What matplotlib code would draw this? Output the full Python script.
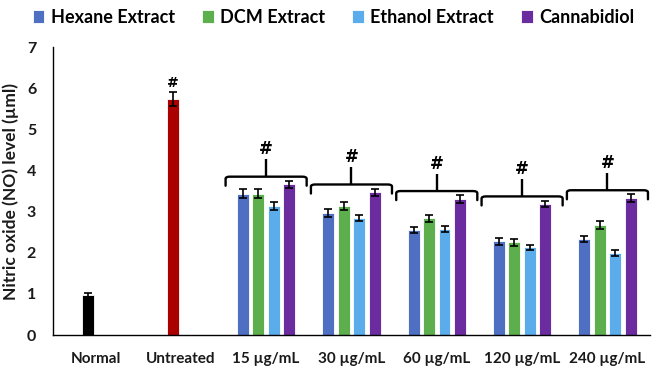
import matplotlib
matplotlib.use("Agg")
import matplotlib.pyplot as plt
import numpy as np
from matplotlib.path import Path
from matplotlib.patches import PathPatch

plt.rcParams['font.family'] = ['Lato', 'DejaVu Sans']

categories = ["Normal", "Untreated", "15 µg/mL", "30 µg/mL", "60 µg/mL", "120 µg/mL", "240 µg/mL"]
series = ["Hexane Extract", "DCM Extract", "Ethanol Extract", "Cannabidiol"]
colors = ["#4F6FC3", "#5DAF4E", "#5AACEA", "#6A2C9E"]

control_values = [0.98, 5.74]
control_errors = [0.05, 0.17]
control_colors = ["#000000", "#AA0000"]

hexane = [3.44, 2.96, 2.55, 2.28, 2.33]
dcm = [3.43, 3.14, 2.84, 2.25, 2.67]
ethanol = [3.14, 2.85, 2.58, 2.13, 2.00]
cbd = [3.66, 3.47, 3.31, 3.19, 3.33]
hexane_err = [0.11, 0.10, 0.08, 0.08, 0.08]
dcm_err = [0.11, 0.09, 0.09, 0.08, 0.09]
ethanol_err = [0.09, 0.08, 0.08, 0.06, 0.07]
cbd_err = [0.09, 0.09, 0.09, 0.08, 0.09]

fig = plt.figure(figsize=(6.6, 3.71), dpi=100)
ax = fig.add_axes([0.080, 0.097, 0.905, 0.776])

x = np.arange(len(categories))
slot = 0.181
bw = 0.14
offsets = (np.arange(4) - 1.5) * slot

err_kw = dict(elinewidth=1.2, capsize=3, capthick=1.2, ecolor="black")

# controls sit in the second slot
for i, (v, e, c) in enumerate(zip(control_values, control_errors, control_colors)):
    ax.bar(x[i] + offsets[1], v, bw, color=c, edgecolor="white", linewidth=0.6,
           yerr=e, error_kw=err_kw, zorder=2)

xc = x[2:]
data = [hexane, dcm, ethanol, cbd]
errs = [hexane_err, dcm_err, ethanol_err, cbd_err]
for k in range(4):
    ax.bar(xc + offsets[k], data[k], bw, color=colors[k], edgecolor="white",
           linewidth=0.6, yerr=errs[k], error_kw=err_kw, label=series[k], zorder=2)

# '#' over untreated
ax.text(x[1] + offsets[1], control_values[1] + control_errors[1] + 0.05, "#",
        ha="center", va="bottom", fontsize=10, fontweight="bold", family="DejaVu Sans")

# braces
tops = np.max(np.array(data) + np.array(errs), axis=0)
for j, xi in enumerate(xc):
    yh = tops[j] + 0.1
    left = xi - 0.475
    right = xi + 0.475
    drop = 0.22
    r = 0.05
    verts = [(left, yh - drop), (left, yh - 0.05), (left, yh), (left + r, yh),
             (right - r, yh), (right, yh), (right, yh - 0.05), (right, yh - drop)]
    codes = [Path.MOVETO, Path.LINETO, Path.CURVE3, Path.CURVE3,
             Path.LINETO, Path.CURVE3, Path.CURVE3, Path.LINETO]
    ax.add_patch(PathPatch(Path(verts, codes), fill=False, lw=1.7, color="black",
                           capstyle="round", joinstyle="round", zorder=3))
    ax.plot([xi, xi], [yh, yh + 0.42], color="black", lw=1.7, zorder=3,
            solid_capstyle="butt")
    ax.text(xi, yh + 0.45, "#", ha="center", va="bottom", fontsize=12,
            fontweight="bold", family="DejaVu Sans")

ax.set_xlim(-0.5, len(categories) - 0.5)
ax.set_ylim(0, 7)
ax.set_yticks(range(0, 8))
ax.set_xticks(x)
ax.set_xticklabels(categories, fontsize=11, fontweight="bold", color="#1a1a1a")
for t in ax.get_yticklabels():
    t.set_fontsize(11.5)
    t.set_fontweight("bold")
    t.set_color("#1a1a1a")
ax.tick_params(axis="y", length=0, pad=12)
ax.tick_params(axis="x", length=0, pad=12)
ax.spines["top"].set_visible(False)
ax.spines["right"].set_visible(False)
ax.spines["left"].set_color("black")
ax.spines["bottom"].set_color("black")
ax.spines["left"].set_linewidth(1.0)
ax.spines["bottom"].set_linewidth(1.0)
ax.set_ylabel("Nitric oxide (NO) level (µml)", fontsize=12.5, fontweight="bold",
              color="#1a1a1a", va="center")
ax.yaxis.set_label_coords(-0.070, 0.5)

leg = fig.legend(loc="upper left", bbox_to_anchor=(0.025, 1.02), ncol=4, frameon=False,
                 prop={"size": 13, "weight": "bold"}, handlelength=0.65, handleheight=0.75,
                 handletextpad=0.35, columnspacing=1.5)

fig.savefig("out.png", dpi=100)
